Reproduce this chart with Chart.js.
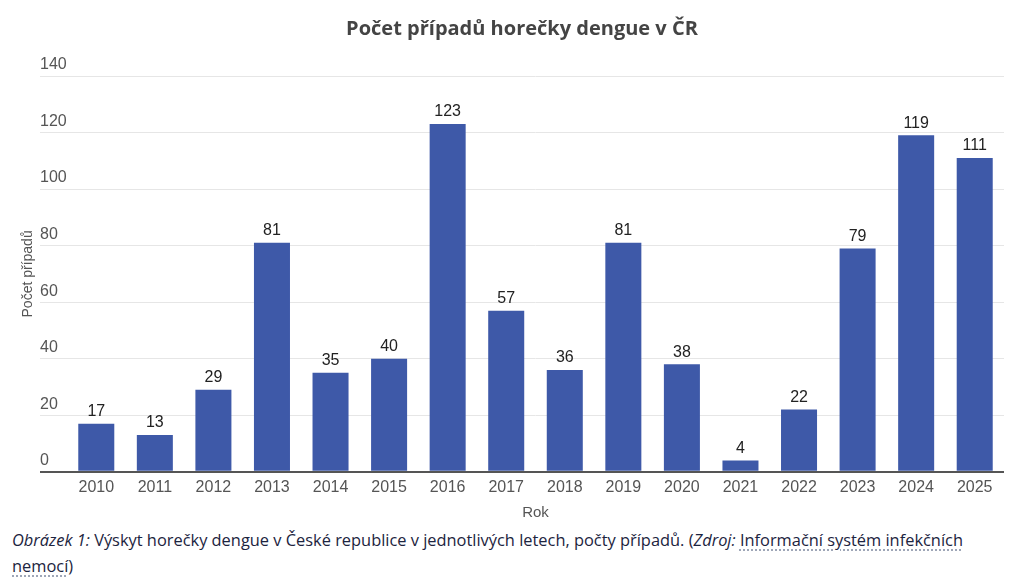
<!DOCTYPE html>
<html lang="cs">
<head>
<meta charset="utf-8">
<title>Počet případů horečky dengue v ČR</title>
<script src="https://cdn.jsdelivr.net/npm/chart.js@4.4.1/dist/chart.umd.min.js"></script>
<style>
  html, body { margin: 0; padding: 0; background: #fff; }
  #wrap { position: relative; width: 1024px; height: 527px; }
  .caption {
    margin: 0;
    padding: 0 0 0 12px;
    font-family: "Open Sans", Roboto, sans-serif;
    font-size: 16.4px;
    line-height: 26px;
    color: #1c2440;
    white-space: nowrap;
  }
  .caption a {
    color: inherit;
    text-decoration: underline dotted #8a93a8;
    text-underline-offset: 4px;
  }
</style>
</head>
<body>
<div id="wrap"><canvas id="dengue"></canvas></div>
<p class="caption"><i>Obrázek 1:</i> Výskyt horečky dengue v České republice v jednotlivých letech, počty případů. (<i>Zdroj:</i> <a>Informační systém infekčních</a><br><a>nemocí</a>)</p>
<script>
var years = ["2010", "2011", "2012", "2013", "2014", "2015", "2016", "2017",
             "2018", "2019", "2020", "2021", "2022", "2023", "2024", "2025"];
var cases = [17, 13, 29, 81, 35, 40, 123, 57, 36, 81, 38, 4, 22, 79, 119, 111];
var yTicks = [0, 20, 40, 60, 80, 100, 120, 140];

var chartFont = "'Liberation Sans', Arial, sans-serif";

// values above bars
var valueLabels = {
  id: "valueLabels",
  afterDatasetsDraw: function(chart) {
    var ctx = chart.ctx;
    var meta = chart.getDatasetMeta(0);
    ctx.save();
    ctx.font = "16px " + chartFont;
    ctx.fillStyle = "#222";
    ctx.textAlign = "center";
    ctx.textBaseline = "middle";
    meta.data.forEach(function(bar, i) {
      ctx.fillText(cases[i], bar.x, bar.y - 12);
    });
    ctx.restore();
  }
};

new Chart("dengue", {
  type: "bar",
  data: {
    labels: years,
    datasets: [{
      data: cases,
      backgroundColor: "#3e59a8",
      categoryPercentage: 1,
      barPercentage: 0.615
    }]
  },
  options: {
    responsive: true,
    maintainAspectRatio: false,
    animation: false,
    layout: { padding: { left: 40, right: 20, top: 0, bottom: 0 } },
    plugins: {
      legend: { display: false },
      tooltip: { enabled: false },
      title: {
        display: true,
        text: "Počet případů horečky dengue v ČR",
        color: "#444",
        font: { family: "'Open Sans', sans-serif", size: 20, weight: "bold" },
        padding: { top: 17, bottom: 35 }
      }
    },
    scales: {
      x: {
        grid: { display: false, drawTicks: false },
        border: { display: false },
        ticks: { color: "#555", font: { family: chartFont, size: 16 }, padding: 6 },
        title: {
          display: true,
          text: "Rok",
          color: "#555",
          font: { family: chartFont, size: 15 },
          padding: { top: 1, bottom: 5 }
        }
      },
      y: {
        min: 0,
        max: 140,
        afterBuildTicks: function(scale) {
          scale.ticks = yTicks.map(function(v) { return { value: v }; });
        },
        afterFit: function(scale) { scale.width = 27; },
        border: { display: false },
        grid: {
          drawTicks: true,
          tickLength: 27,
          color: function(c) { return c.tick && c.tick.value === 0 ? "#555" : "#e6e6e6"; },
          lineWidth: function(c) { return c.tick && c.tick.value === 0 ? 2 : 1; }
        },
        ticks: {
          color: "#555",
          font: { family: chartFont, size: 16 },
          crossAlign: "far",
          labelOffset: -11,
          padding: 0
        },
        title: {
          display: true,
          text: "Počet případů",
          color: "#555",
          font: { family: chartFont, size: 14 },
          padding: { top: -20, bottom: 0 }
        }
      }
    }
  },
  plugins: [valueLabels]
});
</script>
</body>
</html>
